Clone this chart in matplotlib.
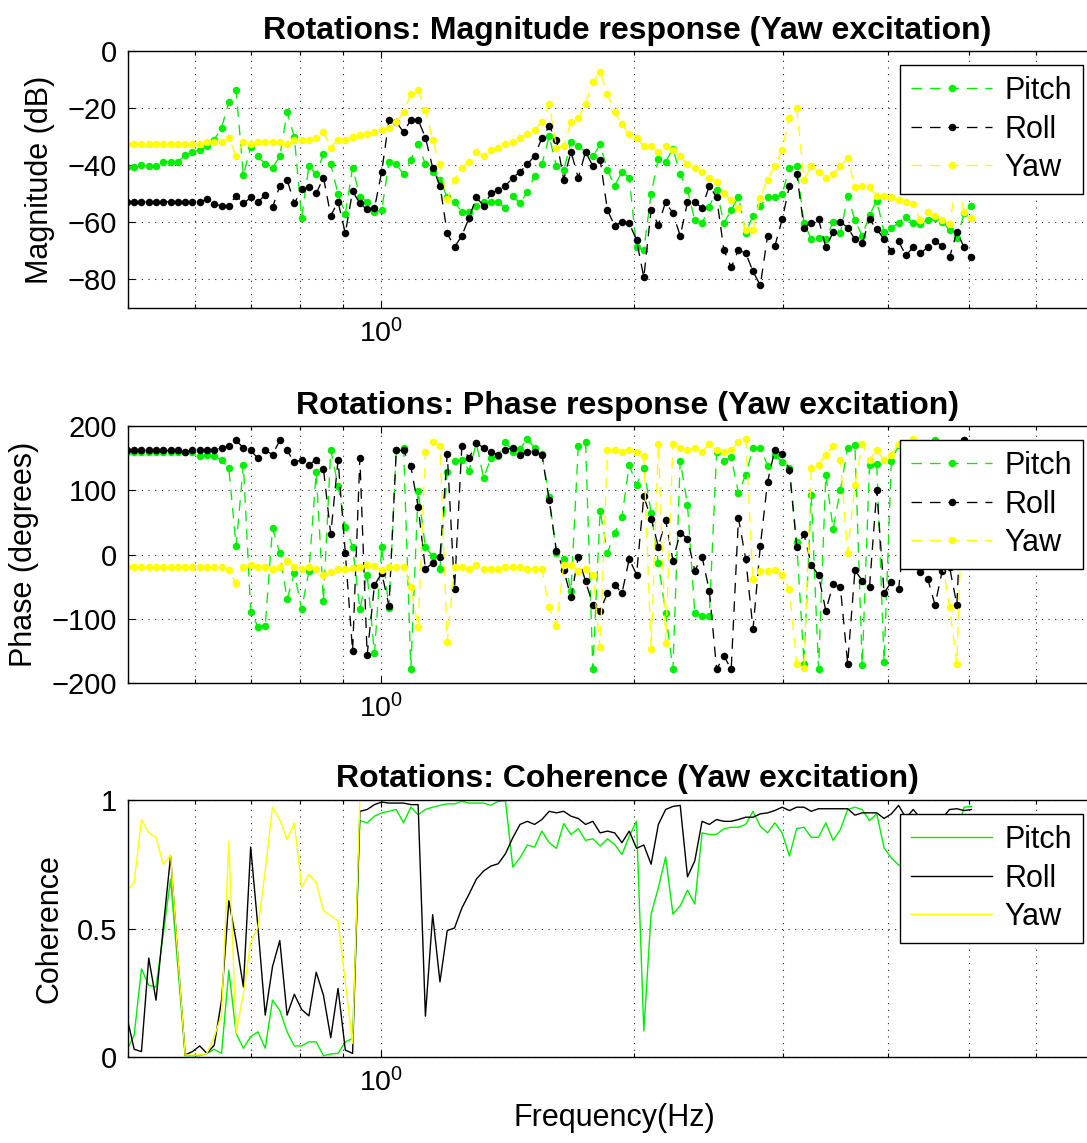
import numpy as np
import matplotlib
matplotlib.use("Agg")
import matplotlib.pyplot as plt
from matplotlib.ticker import NullFormatter, LogLocator

plt.rcParams['font.family'] = ['Liberation Sans', 'DejaVu Sans']
plt.rcParams['mathtext.fontset'] = 'custom'
plt.rcParams['mathtext.rm'] = 'Liberation Sans'

# log-spaced analysis grid (Hz)
freq = np.geomspace(0.4985, 5.03, 117)

labels = ['Pitch', 'Roll', 'Yaw']
colors = ['#00ee00', '#000000', '#ffff00']

pitch_mag = [
    -40.6, -40.6, -40.0, -40.3, -40.3, -38.8, -38.8, -38.8, -36.5, -35.3, -34.8,
    -33.4, -31.0, -26.9, -17.9, -13.8, -43.5, -33.6, -36.9, -39.7, -40.9,
    -36.9, -21.4, -30.1, -58.4, -40.3, -43.1, -36.2, -39.7, -50.1, -57.1,
    -40.9, -51.0, -52.8, -56.5, -55.7, -38.8, -39.7, -43.1, -38.0, -32.4,
    -39.7, -42.3, -45.0, -51.3,
    -53.0, -56.3, -56.3, -54.2, -53.0, -53.0,
    -53.0, -54.9, -50.8, -53.4, -49.3, -43.8, -39.7, -29.9, -40.3, -41.7,
    -31.9, -33.4, -35.3, -36.9, -32.7, -41.7, -47.2, -42.3, -44.4, -68.8,
    -69.7, -50.1, -37.7, -38.8, -34.2, -43.1, -48.7, -59.2, -60.3, -54.5,
    -48.7, -60.3, -55.7, -51.0, -63.6, -57.7, -54.2, -51.3, -51.3, -50.1,
    -40.9, -40.3, -60.1, -65.9, -65.6, -65.9, -59.8, -63.8, -50.8, -59.2,
    -64.8, -57.4, -52.4, -63.3, -62.1, -60.1, -58.0, -60.3, -60.7, -59.2,
    -58.6, -59.8, -62.7, -65.6, -56.9, -54.2]

roll_mag = [
    -52.8, -52.8, -52.8, -52.8, -52.8, -52.8, -52.8, -52.8, -52.8, -52.8, -52.8,
    -52.0, -53.6, -54.2, -54.2, -50.7, -53.4, -51.3, -52.8, -50.5, -54.8,
    -47.2, -45.0, -53.4, -48.5, -47.8, -49.9, -44.3, -57.7, -52.8, -63.8,
    -49.1, -53.4, -55.5, -55.1, -42.3, -24.1, -24.9, -28.4, -24.1, -24.1,
    -30.3, -40.9, -47.2, -63.8, -68.7, -64.7, -58.4, -51.3, -54.2, -49.9,
    -48.7, -47.2, -44.4, -42.3, -39.7, -36.7, -30.5, -26.4, -31.0, -45.0,
    -35.3, -44.4, -35.3, -40.3, -38.0, -55.7, -61.2, -59.8, -60.3, -66.2,
    -79.3, -55.7, -60.9, -52.8, -56.9, -64.7, -53.0, -53.0, -54.9, -47.2,
    -51.3, -69.7, -75.8, -69.7, -70.8, -77.2, -82.1, -64.7, -68.3, -59.0,
    -47.2, -42.9, -61.9, -60.1, -59.0, -68.7, -63.5, -59.8, -61.9, -65.9,
    -67.3, -59.0, -62.4, -65.9, -70.2, -66.7, -71.6, -68.7, -70.8, -68.7,
    -66.7, -68.3, -72.2, -63.3, -68.8, -72.3]

yaw_mag = [
    -32.7, -32.7, -32.7, -32.7, -32.7, -32.7, -32.7, -32.7, -32.7, -32.7, -32.4,
    -31.9, -31.9, -31.9, -30.3, -36.7, -31.9, -32.4, -31.9, -31.9, -31.9,
    -31.9, -32.4, -31.3, -31.3, -31.0, -30.3, -28.4, -33.8, -31.0, -31.0,
    -30.1, -29.5, -29.0, -28.4, -27.6, -27.0, -24.9, -21.4, -15.2, -13.8,
    -20.6, -31.3, -39.7, -52.0, -45.0, -40.9, -38.8, -35.3, -36.7, -34.5,
    -33.8, -32.7, -31.9, -30.5, -29.0, -27.6, -24.9, -18.5, -33.8, -33.4,
    -24.9, -23.5, -18.5, -10.9, -7.4, -15.0, -21.4, -25.5, -29.2, -30.3,
    -33.4, -33.4, -35.3, -33.4, -34.8, -36.7, -39.7, -40.9, -42.3, -44.4,
    -45.8, -49.9, -52.2, -54.9, -62.7, -62.7, -51.4, -45.0, -40.3, -34.5,
    -23.4, -19.9, -45.0, -40.3, -42.3, -44.3, -43.1, -40.3, -37.4, -47.8,
    -47.2, -47.8, -50.8, -50.8, -51.3, -52.2, -52.8, -53.6, -59.2, -56.3,
    -57.8, -59.2, -60.6, -45.2, -56.3, -58.4]

pitch_phase = [
    160.3, 160.3, 160.3, 160.3, 160.3, 160.3, 160.3, 160.3, 159.3, 159.3, 153.0,
    155.1, 153.0, 147.3, 134.2, 13.1, 139.9, -88.8, -112.3, -110.7, 40.7,
    2.6, -69.5, -28.7, -85.1, -26.1, 127.9, -72.1, 162.9, 107.0, 42.8,
    12.0, -85.1, -31.3, -154.0, 12.0, -82.5, 161.9, 166.0, -178.0, 99.2,
    11.5, -2.6, -21.9, 127.9,
    146.2, 147.3, 130.5, 173.4, 119.1, 149.9, 154.0, 174.9, 160.3, 164.5,
    180.0, 166.1, 156.7, 88.8, 1.6, -6.8, -56.4, 168.7, 174.9, -178.0,
    67.9, 2.6, 33.9, 59.0, 139.4, 108.6, 134.2, 65.3, -13.1, -91.4,
    -178.6, 146.2, 77.3, -91.4, -95.0, -95.0, 159.3, 146.2, 151.4, 95.6,
    124.3, 165.5,
    166.1, 138.4, 155.1, 143.6, 134.7, 19.3, -169.7, 93.0, -178.0, 124.3,
    40.2, 100.8, 166.1, 169.7, -172.3, 140.0, 141.0, -167.1, 146.2, 169.7,
    100.0, 60.0, -10.0, 120.0, 178.0, 100.0, -20.0, 50.0, 178.0, 170.0]

roll_phase = [
    161.9, 161.9, 161.9, 161.9, 161.9, 161.9, 161.9, 161.9, 159.3, 161.9, 161.9,
    161.9, 161.9, 166.0, 168.7, 177.5, 166.0, 161.9, 149.9, 161.9, 155.6,
    177.5, 161.9, 143.6, 147.3, 139.9, 147.3, 133.2, 31.3, 147.3, 2.6,
    -150.4, 149.9, -156.7, -48.0, -28.7, -79.9, 161.9, 161.9, 137.3, 74.7,
    -22.5, -13.1, -3.7, 156.7,
    -53.8, 168.1, 149.9, 173.4, 166.1, 159.3, 155.1, 162.9, 166.1, 155.6,
    160.3, 160.3, 155.6,
    84.6, 5.2, -24.5, -66.8, -3.7, -41.8, -78.3, -87.7, -60.1, -47.0,
    -60.1, -6.8, -31.3, 90.3, 55.9, 12.0, 53.3, -9.4, 33.9, 24.5,
    -25.1, -3.7, -56.4, -178.6, -157.7, -178.6, 56.4, -6.8, -115.9,
    13.1, 113.3, 162.9, 156.7, 132.1, 12.0, 31.3, -15.7, -32.4, -87.7,
    -46.0, -50.7, -169.7, -24.5, -40.7, -50.7, 100.3, -60.0, -42.8, -53.3,
    50.0, -10.0, -27.2, -38.1, -78.3, -25.0, -20.0, -78.3, 178.0, 150.0]

yaw_phase = [
    -19.3, -19.3, -19.3, -19.3, -19.3, -19.3, -19.3, -19.3, -19.3, -19.3,
    -19.3, -19.3, -19.3, -19.3,
    -24.5, -44.4, -19.3, -16.7, -19.3, -19.3, -22.5,
    -19.3, -10.4, -19.3, -22.5, -19.3, -22.5, -31.3, -27.7, -22.5, -22.5,
    -20.9, -19.3, -15.7, -18.3, -23.5, -19.3, -19.3, -19.3, -51.2, -113.3,
    159.3, 174.9, 168.7, -135.8,
    -19.3, -19.3, -22.5, -16.7, -22.5, -22.5, -22.5, -19.3, -19.3, -19.3,
    -22.5, -22.5, -22.5, -82.2, -110.7, -15.7, -15.7, -26.1, -22.5, -31.3,
    -144.6, 161.9, 161.9, 159.3, 161.9, 159.3, 153.0, -147.3, 172.3, -138.4,
    172.3, 166.1, 161.9, 166.1, 159.3, 172.3, 161.9, 159.3, 161.9, 174.9,
    180.0, -38.1,
    -26.1, -26.1, -24.5, -31.3, -53.8, -169.7, -176.0, 134.2, 139.4, 155.6,
    168.1, 147.3, 2.6, 108.6, 172.3, 147.3, 161.9, 147.3, 155.1, 172.3,
    170.0, 179.0, 150.0, 165.0, -15.0, -10.0, -82.2, -169.7, 165.0, 160.0]

pitch_coh = [
    0.027, 0.085, 0.343, 0.279, 0.272, 0.479, 0.692, 0.350, 0.005, 0.005,
    0.005, 0.014, 0.030, 0.014, 0.337, 0.092, 0.034, 0.079, 0.098, 0.034,
    0.221, 0.182, 0.098, 0.043, 0.043, 0.059, 0.059, 0.005, 0.012, 0.014,
    0.059, 0.072, 0.920, 0.911, 0.937, 0.950, 0.956, 0.963, 0.911, 0.972,
    0.943, 0.963, 0.972, 0.979, 0.985,
    0.985, 0.995, 0.988, 0.988, 0.988, 0.979, 0.995, 0.997, 0.739, 0.775,
    0.825, 0.817, 0.879, 0.834, 0.812, 0.908, 0.866, 0.888, 0.843, 0.849,
    0.821, 0.849, 0.827, 0.788, 0.859, 0.917, 0.101, 0.556, 0.659, 0.778,
    0.556, 0.588, 0.649, 0.595, 0.872, 0.866, 0.866, 0.888, 0.894, 0.894,
    0.905, 0.956, 0.898, 0.872, 0.911,
    0.872, 0.782, 0.889, 0.894, 0.855, 0.855, 0.911, 0.843, 0.885, 0.963,
    0.972, 0.963, 0.920, 0.946, 0.814, 0.775, 0.747, 0.739, 0.737, 0.734,
    0.737, 0.739, 0.775, 0.840, 0.879, 0.972, 0.975]

roll_coh = [
    0.156, 0.030, 0.021, 0.385, 0.221, 0.505, 0.782, 0.388, 0.008, 0.021,
    0.043, 0.014, 0.046, 0.221, 0.608, 0.453, 0.272, 0.817, 0.505, 0.163,
    0.352, 0.453, 0.163, 0.244, 0.185, 0.160, 0.330, 0.240, 0.075, 0.267,
    0.027, 0.014, 0.956, 0.963, 0.982, 0.992, 0.988, 0.988, 0.988, 0.982,
    0.982, 0.159, 0.554, 0.292, 0.492,
    0.502, 0.579, 0.634, 0.692, 0.724, 0.743, 0.752, 0.791, 0.853, 0.905,
    0.917, 0.905, 0.924, 0.956, 0.950, 0.956, 0.937, 0.928, 0.905, 0.917,
    0.872, 0.879, 0.872, 0.834, 0.879, 0.812, 0.825, 0.750, 0.905, 0.963,
    0.975, 0.979, 0.701, 0.763, 0.917, 0.905, 0.924, 0.917, 0.917, 0.924,
    0.933, 0.933, 0.946, 0.950, 0.959,
    0.972, 0.959, 0.972, 0.972, 0.956, 0.966, 0.966, 0.966, 0.966, 0.966,
    0.941, 0.950, 0.950, 0.950, 0.928, 0.946, 0.979, 0.930, 0.963, 0.930,
    0.930, 0.930, 0.930, 0.963, 0.966, 0.959, 0.963]

yaw_coh = [
    0.646, 0.679, 0.924, 0.872, 0.855, 0.750, 0.786, 0.388, 0.008, 0.008,
    0.008, 0.014, 0.079, 0.163, 0.840, 0.092, 0.246, 0.446, 0.505, 0.724,
    0.972, 0.924, 0.846, 0.911, 0.659, 0.711, 0.679, 0.569, 0.550, 0.530,
    0.292, 0.053,
    1.0, 1.0, 1.0, 1.0, 1.0, 1.0, 1.0, 1.0, 1.0, 1.0,
    1.0, 1.0, 1.0, 1.0, 1.0, 1.0, 1.0, 1.0, 1.0, 1.0,
    1.0, 1.0, 1.0, 1.0, 1.0, 1.0, 1.0, 1.0, 1.0, 1.0,
    1.0, 1.0, 1.0, 1.0, 1.0, 1.0, 1.0, 1.0, 1.0, 1.0,
    1.0, 1.0, 1.0, 1.0, 1.0, 1.0, 1.0, 1.0, 1.0, 1.0,
    1.0, 1.0, 1.0, 1.0, 1.0, 1.0, 1.0, 1.0, 1.0, 1.0,
    1.0, 1.0, 1.0, 1.0, 1.0, 1.0, 1.0, 1.0, 1.0, 1.0,
    1.0, 1.0, 1.0, 1.0, 1.0, 1.0, 1.0, 1.0, 1.0, 1.0,
    1.0, 1.0, 1.0, 1.0, 1.0]

FS = 22
W, H = 1087, 1143
fig = plt.figure(figsize=(W / 100, H / 100), dpi=100)


def make_axes(top_px):
    # the axes run past the right edge of the saved picture, like the original
    ax = fig.add_axes([128 / W, 1 - (top_px + 257) / H, 999 / W, 257 / H])
    ax.set_xscale('log')
    ax.set_xlim(0.5, 7.7)
    ax.xaxis.set_major_locator(LogLocator(base=10))
    ax.xaxis.set_minor_locator(LogLocator(base=10, subs=np.arange(2, 10)))
    ax.xaxis.set_minor_formatter(NullFormatter())
    ax.tick_params(which='both', direction='in', top=True, right=True, labelsize=21, width=0.8)
    ax.tick_params(which='major', length=5, pad=8)
    ax.tick_params(which='minor', length=3)
    ax.tick_params(axis='x', labelsize=20.5)
    ax.grid(True, which='both', axis='x', ls=(0, (1, 5)), lw=0.8, color='#222222')
    ax.grid(True, which='major', axis='y', ls=(0, (1, 5)), lw=0.8, color='#222222')
    for s in ax.spines.values():
        s.set_linewidth(1.0)
    return ax


def add_legend(ax, top_px):
    ax.legend(loc='upper right', bbox_to_anchor=(1083 / W, 1 - top_px / H),
              bbox_transform=fig.transFigure, borderaxespad=0, fancybox=False,
              edgecolor='k', framealpha=1, fontsize=FS, handlelength=2.65,
              handletextpad=0.4, labelspacing=0.28, borderpad=0.36, numpoints=1)


def dotted_lines(ax, series):
    for vals, lab, col in zip(series, labels, colors):
        ax.plot(freq, vals, color=col, ls=(0, (8, 6)), lw=0.95, marker='o',
                ms=5.4, mew=0, label=lab)


# magnitude
ax1 = make_axes(51)
dotted_lines(ax1, [pitch_mag, roll_mag, yaw_mag])
ax1.set_ylim(-90, 0)
ax1.set_yticks([-80, -60, -40, -20, 0])
ax1.set_ylabel('Magnitude (dB)', fontsize=FS, labelpad=9)
ax1.set_title('Rotations: Magnitude response (Yaw excitation)', fontsize=23,
              fontweight='bold', pad=9)
add_legend(ax1, 65)

# phase
ax2 = make_axes(426)
dotted_lines(ax2, [pitch_phase, roll_phase, yaw_phase])
ax2.set_ylim(-200, 200)
ax2.set_yticks([-200, -100, 0, 100, 200])
ax2.set_ylabel('Phase (degrees)', fontsize=FS, labelpad=9)
ax2.set_title('Rotations: Phase response (Yaw excitation)', fontsize=23,
              fontweight='bold', pad=9)
add_legend(ax2, 440)

# coherence
ax3 = make_axes(800)
for vals, lab, col in zip([pitch_coh, roll_coh, yaw_coh], labels, colors):
    ax3.plot(freq, vals, color=col, lw=1.0, label=lab)
ax3.set_ylim(0, 1)
ax3.set_yticks([0, 0.5, 1])
ax3.set_yticklabels(['0', '0.5', '1'])
ax3.set_ylabel('Coherence', fontsize=FS, labelpad=9)
ax3.set_xlabel('Frequency(Hz)', fontsize=FS, x=0.4865)
ax3.set_title('Rotations: Coherence (Yaw excitation)', fontsize=23,
              fontweight='bold', pad=9)
add_legend(ax3, 814)

fig.savefig('out.png', dpi=100)
